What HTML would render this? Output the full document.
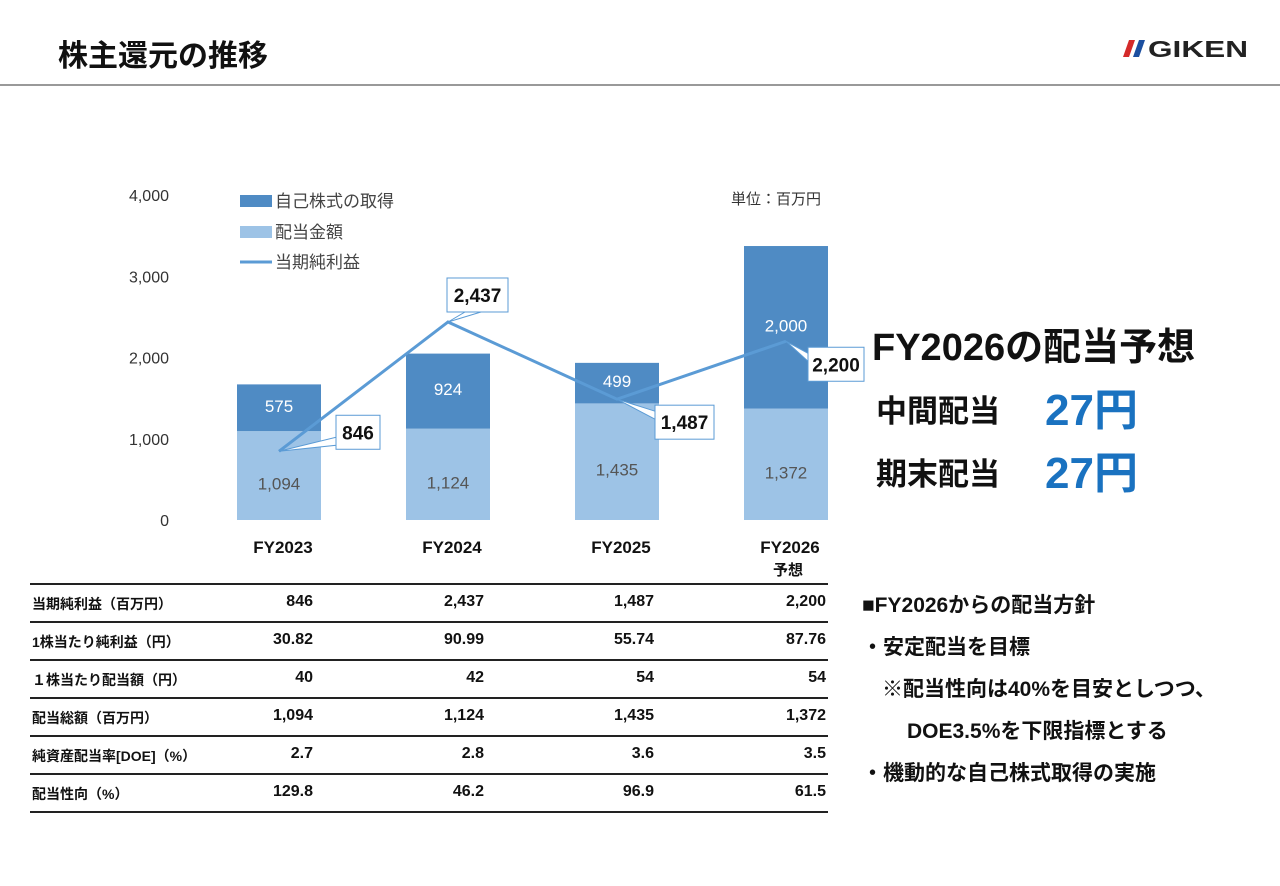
<!DOCTYPE html>
<html><head><meta charset="utf-8">
<style>
body{margin:0;width:1280px;height:886px;background:#fff;font-family:"Liberation Sans","Noto Sans CJK JP",sans-serif;overflow:hidden;position:relative}
.abs{position:absolute}
.b{font-weight:bold}
</style></head><body>
<div class="abs b" style="left:58px;top:31px;font-size:30px;color:#111">株主還元の推移</div>
<div class="abs" style="left:1122px;top:36px;height:26px;width:140px">
<svg width="140" height="26"><polygon points="7,4 13,4 7,21 1,21" fill="#d42a2a"/><polygon points="17,4 23,4 17,21 11,21" fill="#1c4fa0"/>
<text x="26" y="21" font-family="Liberation Sans" font-weight="bold" font-size="23" fill="#222" textLength="100" lengthAdjust="spacingAndGlyphs">GIKEN</text></svg></div>
<div class="abs" style="left:0;top:84px;width:1280px;height:2px;background:#999"></div>

<svg class="abs" style="left:0;top:0" width="1280" height="886" id="chart"></svg>

<div class="abs" style="left:731px;top:188px;font-size:15px;color:#333">単位：百万円</div>

<div class="abs b" style="left:872px;top:316px;font-size:38px;color:#111">FY2026の配当予想</div>
<div class="abs b" style="left:876px;top:386px;font-size:31px;color:#111">中間配当</div>
<div class="abs b" style="left:1045px;top:374px;font-size:44px;color:#1a72c0">27円</div>
<div class="abs b" style="left:876px;top:449px;font-size:31px;color:#111">期末配当</div>
<div class="abs b" style="left:1045px;top:437px;font-size:44px;color:#1a72c0">27円</div>

<div class="abs b" style="left:862px;top:585px;font-size:21px;color:#111;line-height:42px">
<div>■FY2026からの配当方針</div>
<div>・安定配当を目標</div>
<div style="padding-left:20px">※配当性向は40%を目安としつつ、</div>
<div style="padding-left:45px">DOE3.5%を下限指標とする</div>
<div>・機動的な自己株式取得の実施</div>
</div>

<div id="table" class="abs" style="left:30px;top:583px;width:798px"></div>

<script>
const categories=["FY2023","FY2024","FY2025","FY2026"];
const dividend=[1094,1124,1435,1372];
const buyback=[575,924,499,2000];
const netIncome=[846,2437,1487,2200];
const yTicks=[0,1000,2000,3000,4000];
const yTickLabels=["0","1,000","2,000","3,000","4,000"];
const tableLabels=["当期純利益（百万円）","1株当たり純利益（円）","１株当たり配当額（円）","配当総額（百万円）","純資産配当率[DOE]（%）","配当性向（%）"];
const tableValues=[["846","2,437","1,487","2,200"],["30.82","90.99","55.74","87.76"],["40","42","54","54"],["1,094","1,124","1,435","1,372"],["2.7","2.8","3.6","3.5"],["129.8","46.2","96.9","61.5"]];

const NS="http://www.w3.org/2000/svg";
const svg=document.getElementById('chart');
const y=v=>520-v*81.25/1000;
const x=i=>279+i*169;
const BW=84;
function mk(t,a,txt){const e=document.createElementNS(NS,t);for(const k in a)e.setAttribute(k,a[k]);if(txt!=null)e.textContent=txt;svg.appendChild(e);return e;}
yTicks.forEach((t,i)=>{
 const e=mk('text',{x:169,y:y(t)+6,'text-anchor':'end','font-size':16,fill:'#333'},yTickLabels[i]);
 
 
});
categories.forEach((c,i)=>{
 const r1=mk('rect',{x:x(i)-BW/2,y:y(dividend[i]),width:BW,height:y(0)-y(dividend[i]),fill:'#9dc3e6'});
 
 
 const top=dividend[i]+buyback[i];
 const r2=mk('rect',{x:x(i)-BW/2,y:y(top),width:BW,height:y(dividend[i])-y(top),fill:'#4f8bc4'});
 
 
 const t1=mk('text',{x:x(i),y:(y(0)+y(dividend[i]))/2+14,'text-anchor':'middle','font-size':17,fill:'#555'},dividend[i].toLocaleString('en-US'));
 
 
 const t2=mk('text',{x:x(i),y:(y(dividend[i])+y(top))/2+4,'text-anchor':'middle','font-size':17,fill:'#fff'},buyback[i].toLocaleString('en-US'));
 
 
 const cl=mk('text',{x:x(i)+4,y:553,'text-anchor':'middle','font-size':17,'font-weight':'bold',fill:'#111'},c);
 
 
});
const fc=mk('text',{x:x(3)+2,y:575,'text-anchor':'middle','font-size':15,'font-weight':'bold',fill:'#111'},'予想');


const pl=mk('polyline',{points:netIncome.map((v,i)=>x(i)+','+y(v)).join(' '),fill:'none',stroke:'#5b9bd5','stroke-width':3});


// callout offsets relative to point (box left, box top), widths
const offs=[[57,-36],[167,-44],[376,-14],[522,5]];
const bw=[44,61,59,56];
netIncome.forEach((v,i)=>{
 const px=x(i), py=y(v);
 const bx=(i==0?px+57:i==1?px-1:i==2?px+38:px+22);
 const by=py+[-36,-44,6,6][i];
 const w=bw[i], h=34;
 let pts;
 if(i==1) pts=`${px},${py} ${bx+18},${by+h} ${bx+34},${by+h}`;
 else pts=`${px},${py} ${bx},${by+h-12} ${bx},${by+h-4}`;
 if(i>=2) pts=`${px},${py} ${bx},${by+6} ${bx},${by+14}`;
 const tail=mk('polygon',{points:pts,fill:'#fff',stroke:'#5b9bd5','stroke-width':1});
 
 
 const r=mk('rect',{x:bx,y:by,width:w,height:h,fill:'#fff',stroke:'#5b9bd5','stroke-width':1});
 
 
 const t=mk('text',{x:bx+w/2,y:by+24,'text-anchor':'middle','font-size':19,'font-weight':'bold',fill:'#111'},v.toLocaleString('en-US'));
 
 
});
const lg=[['rect','#4f8bc4','自己株式の取得',201],['rect','#9dc3e6','配当金額',232],['line','#5b9bd5','当期純利益',262]];
lg.forEach(l=>{
 let m;
 if(l[0]=='rect')m=mk('rect',{x:240,y:l[3]-6,width:32,height:12,fill:l[1]});
 else m=mk('line',{x1:240,x2:272,y1:l[3],y2:l[3],stroke:l[1],'stroke-width':3});
 
 
 const t=mk('text',{x:275,y:l[3]+6,'font-size':17,fill:'#444'},l[2]);
 
 
});
const tb=document.getElementById('table');
let html='';
const rights=[283,454,624,796];
tableLabels.forEach((lab,r)=>{
 html+=`<div style="position:relative;height:36px;border-top:2px solid #222;font-weight:bold;font-size:15px;color:#111">`;
 html+=`<div style="position:absolute;left:2px;top:9px;font-size:14px">${lab}</div>`;
 tableValues[r].forEach((v,c)=>{html+=`<div style="position:absolute;right:${798-rights[c]}px;top:8px;font-size:16px">${v}</div>`;});
 html+='</div>';
});
html+='<div style="border-top:2px solid #222"></div>';
tb.innerHTML=html;
</script>
</body></html>
